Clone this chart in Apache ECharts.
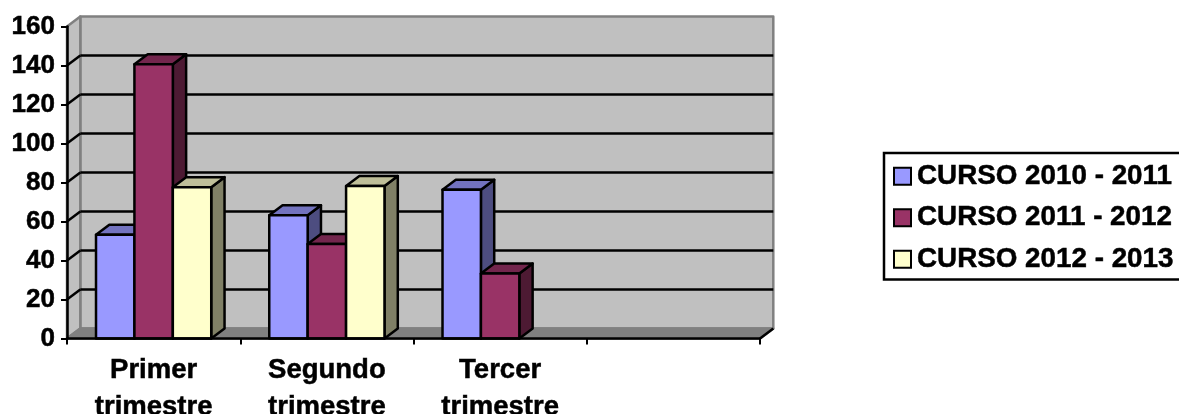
<!DOCTYPE html>
<html><head><meta charset="utf-8">
<style>html,body{margin:0;padding:0;background:#fff}#c{width:1179px;height:414px}</style>
<script src="https://cdn.jsdelivr.net/npm/echarts@6/dist/echarts.min.js"></script>
</head><body><div id="c"></div>
<script>
const categories = ['Primer\ntrimestre', 'Segundo\ntrimestre', 'Tercer\ntrimestre', ' '];
const yTicks = [0, 20, 40, 60, 80, 100, 120, 140, 160];
const curso1011 = [53.2, 63.2, 76.3, null];
const curso1112 = [140.6, 48.5, 33.3, null];
const curso1213 = [77.6, 78.2, null, null];
const seriesNames = ['CURSO 2010 - 2011', 'CURSO 2011 - 2012', 'CURSO 2012 - 2013'];
const seriesValues = [curso1011, curso1112, curso1213];
const front = ['#9999FF', '#993366', '#FFFFCC'];
const side = ['#4D4D80', '#4D1A33', '#808066'];
const top_ = ['#7373BF', '#73264D', '#BFBF99'];
const DX = 13.3, DY = 10, LW = 2.5;

const chart = echarts.init(document.getElementById('c'));
const line = (x1, y1, x2, y2, stroke) => ({type: 'line', shape: {x1, y1, x2, y2}, style: {stroke, lineWidth: LW}});
const poly = (points, fill, stroke) => ({type: 'polygon', shape: {points}, style: {fill, stroke: stroke || fill, lineWidth: LW, lineJoin: 'round'}});

function renderWalls(params, api) {
  const [x0, y0] = api.coord([0, 0]);
  const band = api.size([1, 0])[0];
  const xL = x0 - band / 2, xR = xL + band * categories.length;
  const yT = api.coord([0, yTicks[yTicks.length - 1]])[1];
  const ch = [
    poly([[xL + DX, yT - DY], [xR + DX, yT - DY], [xR + DX, y0 - DY], [xL + DX, y0 - DY]], '#C0C0C0', '#808080'),
    poly([[xL, yT], [xL + DX, yT - DY], [xL + DX, y0 - DY], [xL, y0]], '#C0C0C0', '#808080'),
    poly([[xL, y0], [xL + DX, y0 - DY], [xR + DX, y0 - DY], [xR, y0]], '#808080', '#808080')
  ];
  yTicks.slice(1, -1).forEach(t => {
    const y = api.coord([0, t])[1];
    ch.push(line(xL + DX, y - DY, xR + DX, y - DY, '#000'));
    ch.push(line(xL, y, xL + DX, y - DY, '#000'));
  });
  ch.push(line(xR, y0, xR + DX, y0 - DY, '#000'));
  return {type: 'group', children: ch};
}
function renderBar(s) {
  return function (params, api) {
    const v = api.value(1);
    const [cx, y0] = api.coord([api.value(0), 0]);
    const yv = api.coord([api.value(0), v])[1];
    const band = api.size([1, 0])[0];
    const w = band * 0.2217;
    const x = cx - 1.5 * w + s * w;
    return {type: 'group', children: [
      poly([[x + w, yv], [x + w + DX, yv - DY], [x + w + DX, y0 - DY], [x + w, y0]], side[s], '#000'),
      poly([[x, yv], [x + DX, yv - DY], [x + w + DX, yv - DY], [x + w, yv]], top_[s], '#000'),
      poly([[x, yv], [x + w, yv], [x + w, y0], [x, y0]], front[s], '#000')
    ]};
  };
}

const series = [{
  type: 'custom', name: 'walls', silent: true, z: 1, data: [[0, 0]],
  renderItem: renderWalls, encode: {x: 0, y: 1}
}];
seriesNames.forEach((name, s) => {
  series.push({
    type: 'custom', name, z: 2 + s,
    itemStyle: {color: front[s], borderColor: '#000', borderWidth: 2.5},
    data: seriesValues[s].map((v, i) => [i, v]).filter(d => d[1] !== null),
    renderItem: renderBar(s), encode: {x: 0, y: 1}
  });
});

const bold = {textBorderColor: '#000', textBorderWidth: 0.5, color: '#000', fontWeight: 'bold', fontFamily: 'Liberation Sans'};

chart.setOption({
  backgroundColor: '#fff',
  animation: false,
  textStyle: {fontFamily: 'Liberation Sans'},
  grid: {left: 67, top: 26.5, width: 693, height: 312, containLabel: false, outerBoundsMode: 'none'},
  xAxis: {
    type: 'category', data: categories, z: 8,
    axisLine: {lineStyle: {color: '#000', width: 2.5}},
    axisTick: {show: true, alignWithLabel: false, length: 6, lineStyle: {color: '#000', width: 2}},
    axisLabel: Object.assign({interval: 0, fontSize: 27.5, lineHeight: 36.5, margin: 14, hideOverlap: false}, bold)
  },
  yAxis: {
    type: 'value', min: 0, max: 160, interval: 20, z: 8,
    splitLine: {show: false},
    axisLine: {show: true, lineStyle: {color: '#000', width: 2.5}},
    axisTick: {show: true, length: 6, lineStyle: {color: '#000', width: 2}},
    axisLabel: Object.assign({fontSize: 26, margin: 12}, bold)
  },
  legend: {
    data: seriesNames, orient: 'vertical', left: 884, top: 153,
    backgroundColor: '#fff', borderColor: '#000', borderWidth: 2.5, borderRadius: 0,
    padding: [9, 40, 6, 9], itemGap: 13, itemWidth: 17, itemHeight: 17, icon: 'rect',
    textStyle: Object.assign({fontSize: 27.8, padding: [0, 0, 0, 1], lineHeight: 28}, bold)
  },
  series
});
</script></body></html>
